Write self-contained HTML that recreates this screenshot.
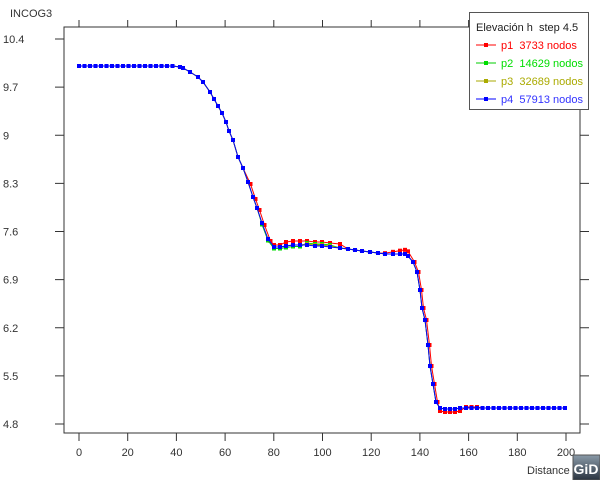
<!DOCTYPE html><html><head><style>body{margin:0;background:#fff}svg{display:block;font-family:"Liberation Sans",sans-serif}text{white-space:pre}</style></head><body>
<svg id="s" width="600" height="480" xmlns="http://www.w3.org/2000/svg">
<rect x="64" y="27" width="516" height="406" fill="none" stroke="#333" stroke-width="1"/>
<g id="ax" stroke="#333" stroke-width="1"></g>
<g id="lab" font-size="11" fill="#333"></g>
<text x="10" y="17" font-size="11" fill="#333">INCOG3</text>
<text x="527" y="474" font-size="11" fill="#333">Distance</text>
<g id="data"></g>
<rect x="469.5" y="12.5" width="119" height="97" fill="#fff" stroke="#555"/>
<text x="476" y="31" font-size="11" fill="#222">Elevación h&#160; step 4.5</text>
<g font-size="11">
<line x1="476" y1="45" x2="496" y2="45" stroke="#f00"/><rect x="484" y="43" width="4" height="4" fill="#f00"/><text x="501" y="49" fill="#f00">p1&#160; 3733 nodos</text>
<line x1="476" y1="63" x2="496" y2="63" stroke="#0c0"/><rect x="484" y="61" width="4" height="4" fill="#0d0"/><text x="501" y="67" fill="#0d0">p2&#160; 14629 nodos</text>
<line x1="476" y1="81" x2="496" y2="81" stroke="#aa0"/><rect x="484" y="79" width="4" height="4" fill="#aa0"/><text x="501" y="85" fill="#aa0">p3&#160; 32689 nodos</text>
<line x1="476" y1="99" x2="496" y2="99" stroke="#00f"/><rect x="484" y="97" width="4" height="4" fill="#00f"/><text x="501" y="103" fill="#33f">p4&#160; 57913 nodos</text>
</g>
<defs><linearGradient id="g" x1="0" y1="0" x2="0" y2="1"><stop offset="0" stop-color="#8a9aa8"/><stop offset="1" stop-color="#2a3440"/></linearGradient></defs>
<rect x="573" y="455" width="27" height="25" fill="url(#g)" stroke="#555"/>
<text x="586" y="474" font-size="14" font-weight="bold" fill="#fff" text-anchor="middle">GiD</text>
</svg>
<script>
var NS="http://www.w3.org/2000/svg";
function el(p,t,a){var e=document.createElementNS(NS,t);for(var k in a)e.setAttribute(k,a[k]);p.appendChild(e);return e;}
var ax=document.getElementById('ax'),lab=document.getElementById('lab');
for(var i=0;i<=10;i++){var x=79+i*48.7;
 el(ax,'line',{x1:x,y1:433,x2:x,y2:441});el(ax,'line',{x1:x,y1:20,x2:x,y2:27});
 var t=el(lab,'text',{x:x,y:456,'text-anchor':'middle'});t.textContent=i*20;}
var yl=['10.4','9.7','9','8.3','7.6','6.9','6.2','5.5','4.8'];
for(var j=0;j<9;j++){var y=39+j*48.125;
 el(ax,'line',{x1:55,y1:y,x2:64,y2:y});el(ax,'line',{x1:580,y1:y,x2:589,y2:y});
 var t=el(lab,'text',{x:3,y:y+4});t.textContent=yl[j];}
var blue=[];
for(var x=79;x<=175;x+=5.5)blue.push([x,66]);
blue=blue.concat([[180,67],[183,68],[190,72],[198,77],[203,82],[210,92],[214,99],[218,106],[222,113],[226,122],[229,131],[233,140],[238,157],[243,168],[248,182],[253,197],[257,208],[262,223],[268,239],[274,247],[280,247],[286,246],[293,245],[300,245],[307,245],[315,246],[322,246],[330,247],[340,248],[348,249],[355,250],[362,251],[370,252],[378,253],[385,254],[393,254],[400,254],[405,254],[408,256],[413,262],[417,272],[420,290],[422,308],[425,320],[428,345],[430,366],[433,384],[436,402],[440,408],[445,409],[450,409],[455,409],[460,408]]);
for(var x=466;x<=566;x+=5.5)blue.push([x,408]);
var red=blue.map(function(p){var x=p[0],y=p[1];
 if(x>=245&&x<=272)return[x+2.5,y+2];
 if(x>272&&x<=300)return[x,y-(x<285?2:4)];
 if(x>300&&x<=340)return[x,y-4];
 if(x>380&&x<=408)return[x,y-(x-380)/6];
 if(x>408&&x<440)return[x+1.5,y];
 if(x>=440&&x<=460)return[x,y+3];
 if(x>460&&x<=480)return[x,y-1];
 return[x,y];});
var green=blue.map(function(p){var x=p[0],y=p[1];
 if(x>=262&&x<=300)return[x,y+1.5];
 if(x>300&&x<=330)return[x,y-2];return[x,y];});
var olive=blue.map(function(p){var x=p[0],y=p[1];if(x>300&&x<=330)return[x,y-1];return[x,y];});
var d=document.getElementById('data');
[[red,'#f00'],[green,'#0d0'],[olive,'#aa0'],[blue,'#00f']].forEach(function(s){
 el(d,'polyline',{points:s[0].map(function(p){return p.join(',')}).join(' '),fill:'none',stroke:s[1],'stroke-width':1});
 s[0].forEach(function(p){el(d,'rect',{x:p[0]-2,y:p[1]-2,width:4,height:4,fill:s[1]});});});
</script>
</body></html>
